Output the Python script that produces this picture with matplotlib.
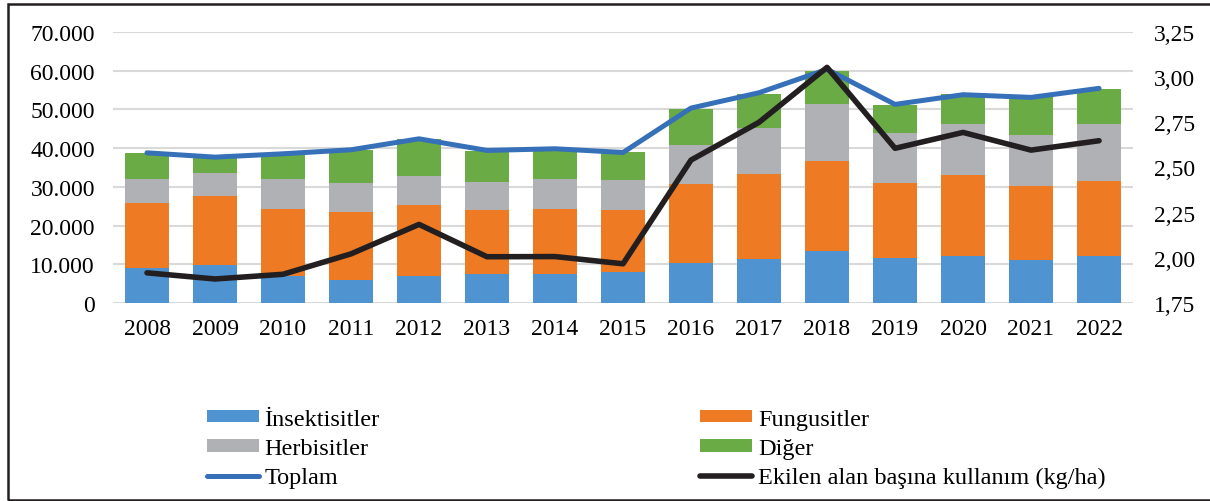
import matplotlib.pyplot as plt
import numpy as np
from matplotlib.patches import Rectangle
from matplotlib.ticker import FuncFormatter

plt.rcParams['font.family'] = ['Liberation Serif', 'DejaVu Serif']

# Veriler (okunan değerler)
years = ['2008', '2009', '2010', '2011', '2012', '2013', '2014', '2015',
         '2016', '2017', '2018', '2019', '2020', '2021', '2022']
insektisit = [9100, 9750, 7050, 6050, 7100, 7600, 7400, 7950,
              10300, 11300, 13550, 11550, 12250, 11050, 12150]
fungusit = [16850, 17900, 17350, 17500, 18100, 16300, 16750, 15950,
            20550, 22050, 23000, 19550, 20700, 19050, 19400]
herbisit = [6150, 6050, 7600, 7500, 7500, 7400, 7850, 7900,
            10000, 11900, 14900, 12850, 13200, 13400, 14550]
diger = [6600, 4000, 6500, 8350, 9700, 8000, 7800, 7100,
         9150, 8700, 8500, 7250, 7700, 9650, 9150]
toplam = [38780, 37670, 38530, 39570, 42400, 39400, 39830, 38870,
          50340, 54300, 60340, 51290, 53790, 53100, 55430]
kg_ha = [1.917, 1.883, 1.909, 2.022, 2.185, 2.006, 2.007, 1.967,
         2.541, 2.750, 3.054, 2.606, 2.694, 2.596, 2.648]

c_ins = '#4f94d1'
c_fun = '#ee7b24'
c_her = '#b0b1b4'
c_dig = '#6aab45'
c_top = '#3570b8'
c_kg = '#231f20'

fig = plt.figure(figsize=(12.1, 5.02), dpi=100)
ax = fig.add_axes([0.0934, 0.3944, 0.843, 0.54])
x = np.arange(len(years))
w = 0.64

b1 = ax.bar(x, insektisit, w, color=c_ins, label='İnsektisitler', zorder=2)
bottom = np.array(insektisit)
b2 = ax.bar(x, fungusit, w, bottom=bottom, color=c_fun, label='Fungusitler', zorder=2)
bottom = bottom + np.array(fungusit)
b3 = ax.bar(x, herbisit, w, bottom=bottom, color=c_her, label='Herbisitler', zorder=2)
bottom = bottom + np.array(herbisit)
b4 = ax.bar(x, diger, w, bottom=bottom, color=c_dig, label='Diğer', zorder=2)
l1, = ax.plot(x, toplam, color=c_top, lw=3.6, solid_capstyle='round', label='Toplam', zorder=3)

ax.set_xlim(-0.5, len(years) - 0.5)
ax.set_ylim(0, 70000)
ax.set_yticks(np.arange(0, 70001, 10000))
ax.yaxis.set_major_formatter(FuncFormatter(lambda v, p: f'{int(v):,}'.replace(',', '.')))
ax.set_xticks(x)
ax.set_xticklabels(years)
ax.grid(axis='y', color='#d9d9d9', lw=1.5, zorder=0)
for s in ax.spines.values():
    s.set_visible(False)
ax.tick_params(axis='both', length=0, labelsize=17)
ax.tick_params(axis='y', pad=13)
ax.tick_params(axis='x', pad=11)

ax2 = ax.twinx()
l2, = ax2.plot(x, kg_ha, color=c_kg, lw=4, solid_capstyle='round',
               label='Ekilen alan başına kullanım (kg/ha)', zorder=4)
ax2.set_ylim(1.75, 3.25)
ax2.set_yticks(np.arange(1.75, 3.26, 0.25))
ax2.yaxis.set_major_formatter(FuncFormatter(lambda v, p: f'{v:.2f}'.replace('.', ',')))
for s in ax2.spines.values():
    s.set_visible(False)
ax2.tick_params(axis='y', length=0, labelsize=17, pad=15)

leg_kw = dict(loc='upper left', frameon=False, fontsize=17.5, handlelength=2.14,
              handleheight=0.42, handletextpad=0.25, labelspacing=0.34,
              borderaxespad=0, borderpad=0)
fig.legend([b1, b3, l1], [b1.get_label(), b3.get_label(), l1.get_label()],
           bbox_to_anchor=(206.5 / 1210, 0.184), **leg_kw)
fig.legend([b2, b4, l2], [b2.get_label(), b4.get_label(), l2.get_label()],
           bbox_to_anchor=(700 / 1210, 0.184), **leg_kw)

fig.patches.append(Rectangle((8 / 1210, 0.002), 1.05, 0.988, transform=fig.transFigure,
                             fill=False, edgecolor='#231f20', lw=1.8))

fig.savefig('out.png', dpi=100)
